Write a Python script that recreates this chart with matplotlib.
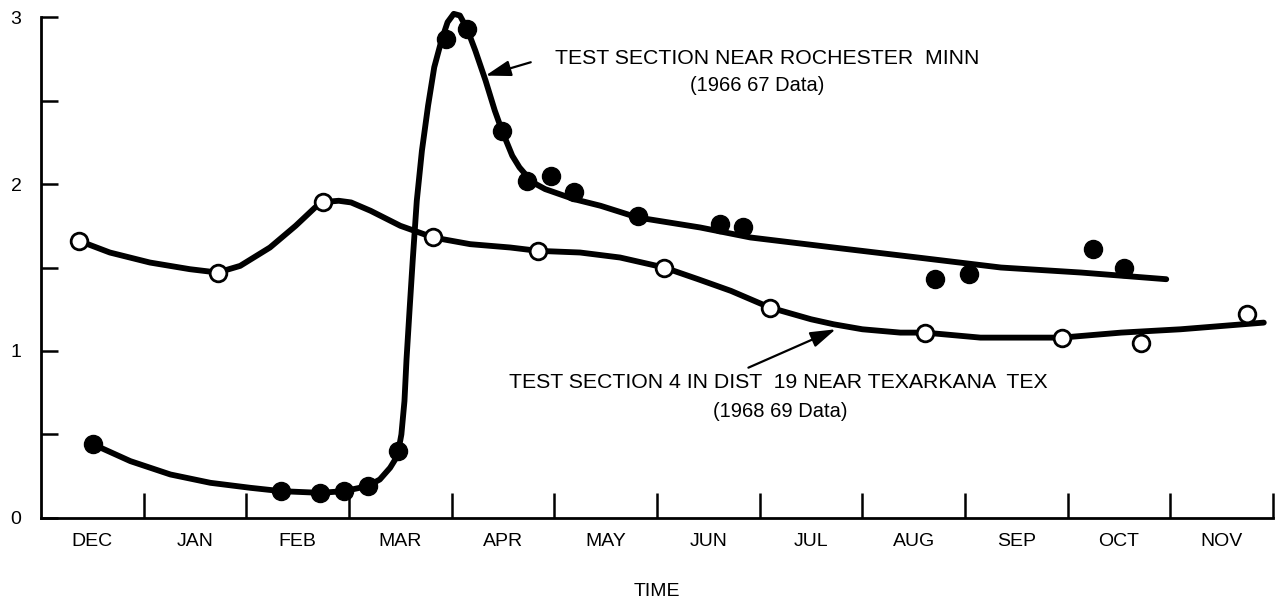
import matplotlib
matplotlib.use("Agg")
import matplotlib.pyplot as plt

plt.rcParams['font.family'] = ['Liberation Sans', 'DejaVu Sans']

# months run Dec..Nov, x measured in months from the start of Dec
months = ['DEC', 'JAN', 'FEB', 'MAR', 'APR', 'MAY', 'JUN', 'JUL', 'AUG', 'SEP', 'OCT', 'NOV']

# Rochester, Minn (1966-67) measured points
roch_x = [0.51, 2.34, 2.72, 2.95, 3.18, 3.48, 3.94, 4.15, 4.49, 4.73, 4.97, 5.19,
          5.81, 6.61, 6.84, 8.71, 9.04, 10.25, 10.55]
roch_y = [0.44, 0.16, 0.15, 0.16, 0.19, 0.40, 2.87, 2.93, 2.32, 2.02, 2.05, 1.95,
          1.81, 1.76, 1.74, 1.43, 1.46, 1.61, 1.50]

# hand fitted curve through the Rochester points
roch_fit_x = [0.51, 0.87, 1.26, 1.65, 2.04, 2.34, 2.72, 2.95, 3.18, 3.30, 3.40, 3.45,
              3.48, 3.51, 3.54, 3.56, 3.59, 3.62, 3.66, 3.71, 3.77, 3.83, 3.90, 3.96,
              4.02, 4.08, 4.15, 4.23, 4.33, 4.42, 4.49, 4.59, 4.66, 4.73, 4.82, 4.91,
              5.05, 5.19, 5.45, 5.81, 6.42, 6.91, 7.72, 8.54, 9.35, 10.13, 10.96]
roch_fit_y = [0.44, 0.34, 0.26, 0.21, 0.18, 0.16, 0.15, 0.16, 0.19, 0.23, 0.30, 0.35,
              0.40, 0.50, 0.70, 0.95, 1.25, 1.54, 1.90, 2.20, 2.47, 2.70, 2.86, 2.97,
              3.02, 3.01, 2.93, 2.80, 2.62, 2.44, 2.32, 2.17, 2.10, 2.05, 2.00, 1.97,
              1.94, 1.91, 1.87, 1.80, 1.74, 1.68, 1.62, 1.56, 1.50, 1.47, 1.43]

# Texarkana, Tex (1968-69) measured points
tex_x = [0.37, 1.72, 2.75, 3.82, 4.84, 6.07, 7.10, 8.61, 9.94, 10.71, 11.75]
tex_y = [1.66, 1.47, 1.89, 1.68, 1.60, 1.50, 1.26, 1.11, 1.08, 1.05, 1.22]

tex_fit_x = [0.37, 0.67, 1.06, 1.45, 1.72, 1.94, 2.23, 2.48, 2.67, 2.80, 2.90, 3.02,
             3.21, 3.50, 3.82, 4.18, 4.57, 4.84, 5.25, 5.64, 6.07, 6.40, 6.72, 7.10,
             7.50, 7.72, 8.00, 8.37, 8.61, 9.15, 9.94, 10.52, 11.10, 11.91]
tex_fit_y = [1.66, 1.59, 1.53, 1.49, 1.47, 1.51, 1.62, 1.75, 1.86, 1.895, 1.90, 1.89,
             1.84, 1.75, 1.68, 1.64, 1.62, 1.60, 1.59, 1.56, 1.50, 1.43, 1.36, 1.26,
             1.19, 1.16, 1.13, 1.11, 1.11, 1.08, 1.08, 1.11, 1.13, 1.17]

fig = plt.figure(figsize=(12.82, 5.98), dpi=100)
ax = fig.add_axes([0.032, 0.134, 0.961, 0.854])

line_kw = dict(color='black', lw=4.2, solid_capstyle='round',
               solid_joinstyle='round', clip_on=False, zorder=3)
ax.plot(roch_fit_x, roch_fit_y, **line_kw)
ax.plot(roch_x, roch_y, 'o', color='black', ms=13, clip_on=False, zorder=4)

ax.plot(tex_fit_x, tex_fit_y, **line_kw)
ax.plot(tex_x, tex_y, 'o', mfc='white', mec='black', mew=2, ms=12, clip_on=False, zorder=4)

# labels with arrows
arrow = dict(arrowstyle='-|>,head_length=0.7,head_width=0.22', color='black',
             lw=1.6, mutation_scale=22, shrinkA=0, shrinkB=0)
ax.annotate('', xy=(4.33, 2.65), xytext=(4.77, 2.73), arrowprops=arrow)
ax.text(7.07, 2.75, 'TEST SECTION NEAR ROCHESTER  MINN', ha='center', va='center', fontsize=15.3)
ax.text(6.98, 2.59, '(1966 67 Data)', ha='center', va='center', fontsize=14.5)

ax.annotate('', xy=(7.74, 1.13), xytext=(6.89, 0.90), arrowprops=arrow)
ax.text(7.18, 0.81, 'TEST SECTION 4 IN DIST  19 NEAR TEXARKANA  TEX',
        ha='center', va='center', fontsize=15.3)
ax.text(7.2, 0.64, '(1968 69 Data)', ha='center', va='center', fontsize=14.5)

ax.set_xlim(0, 12)
ax.set_ylim(0, 3.06)

for s in ['top', 'right']:
    ax.spines[s].set_visible(False)
ax.spines['left'].set_bounds(0, 3)
ax.spines['left'].set_linewidth(2)
ax.spines['bottom'].set_linewidth(2)

ax.set_yticks([0, 0.5, 1, 1.5, 2, 2.5, 3])
ax.set_yticklabels(['0', '', '1', '', '2', '', '3'])
ax.tick_params(axis='y', direction='in', length=12, width=1.8, pad=14, labelsize=14)

ax.set_xticks(range(1, 13))
ax.set_xticklabels([])
ax.tick_params(axis='x', which='major', direction='in', length=18, width=1.8)
ax.set_xticks([i + 0.5 for i in range(12)], months, minor=True)
ax.tick_params(axis='x', which='minor', length=0, pad=11, labelsize=14)

ax.set_xlabel('TIME', fontsize=14, labelpad=24)

fig.savefig('out.png', dpi=100)
